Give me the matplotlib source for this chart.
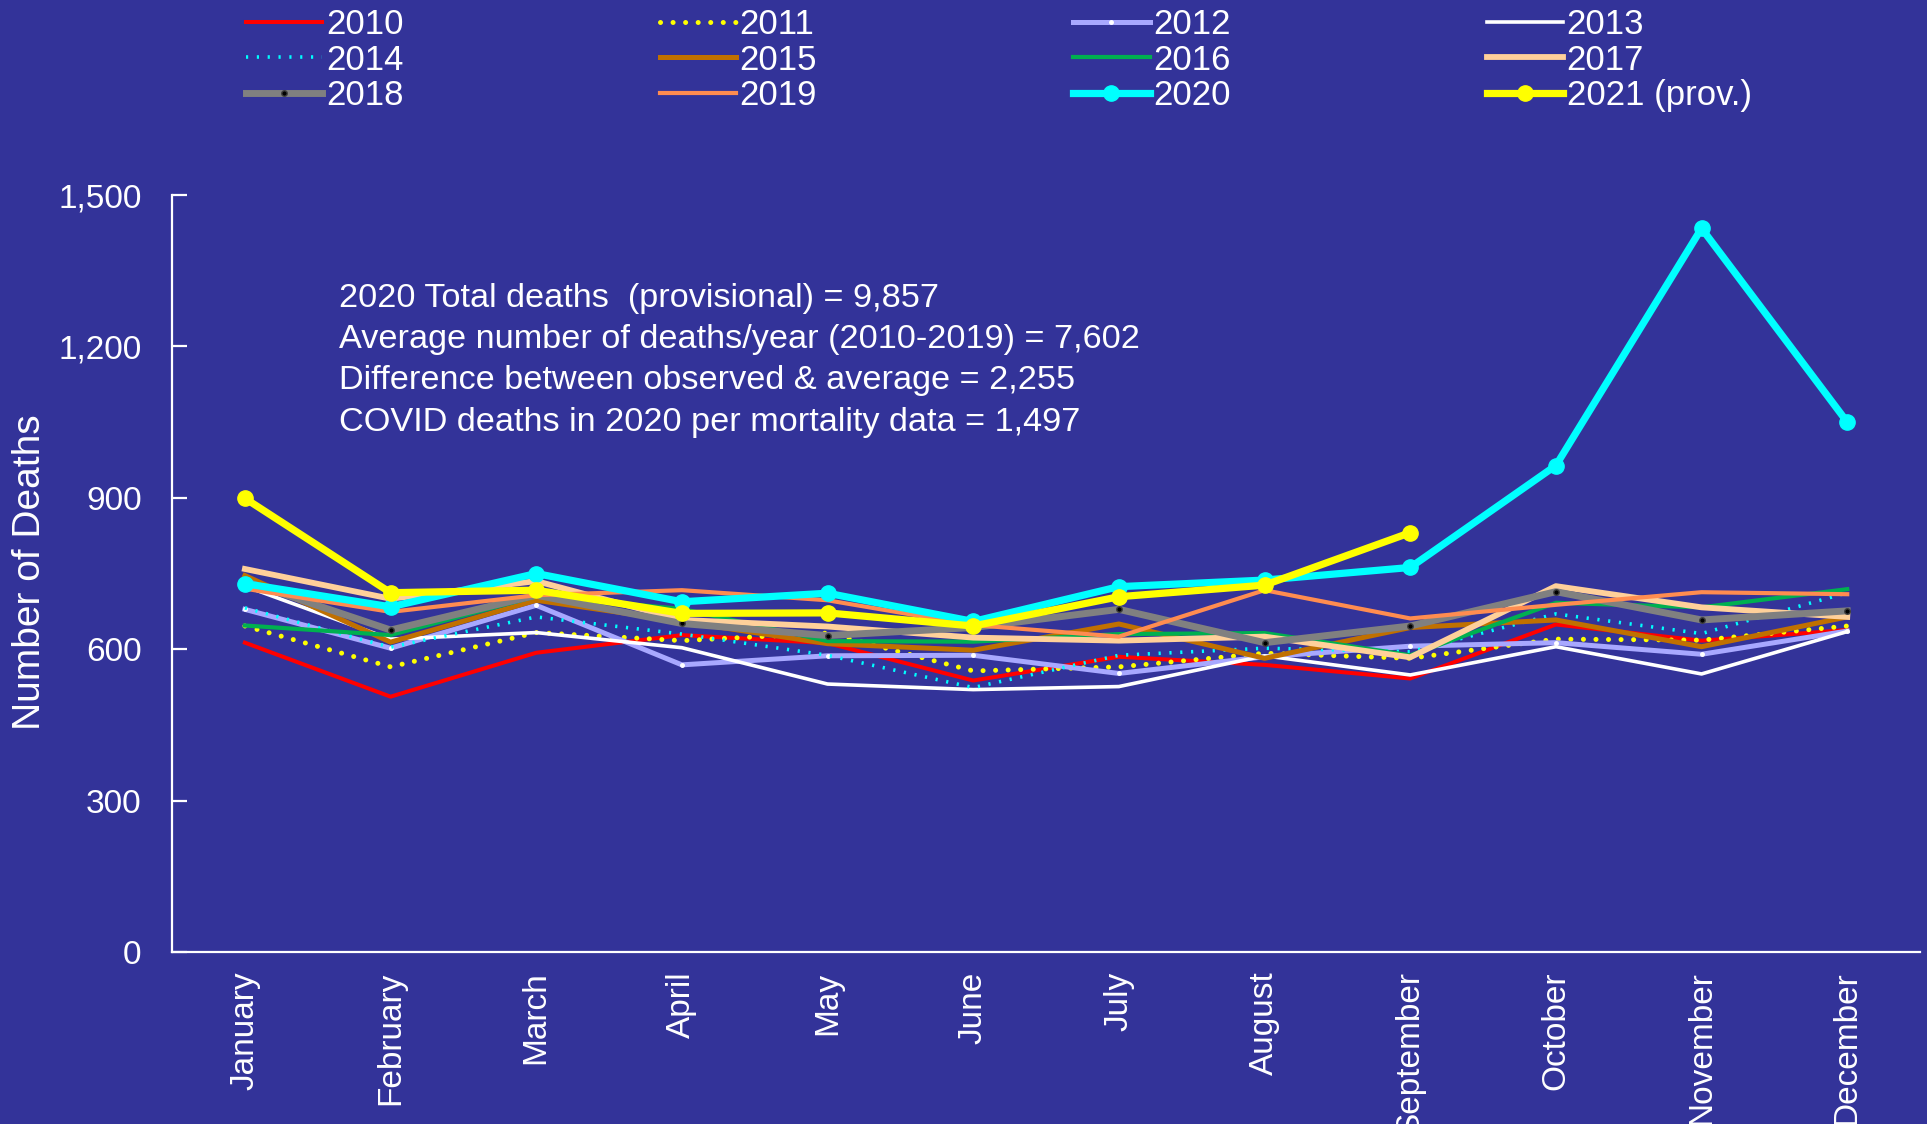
import matplotlib
matplotlib.use("Agg")
import matplotlib.pyplot as plt
from matplotlib.ticker import FuncFormatter

plt.rcParams['font.family'] = ['Liberation Sans', 'DejaVu Sans']

BG = '#333399'

months = ["January", "February", "March", "April", "May", "June", "July",
          "August", "September", "October", "November", "December"]

d2010 = [613, 506, 593, 628, 612, 538, 585, 569, 542, 649, 617, 638]
d2011 = [646, 565, 633, 617, 632, 557, 565, 592, 582, 620, 618, 646]
d2012 = [679, 602, 687, 569, 587, 588, 552, 585, 606, 613, 590, 636]
d2013 = [725, 620, 633, 603, 531, 520, 526, 587, 549, 605, 551, 635]
d2014 = [682, 604, 664, 630, 588, 524, 588, 602, 595, 670, 631, 712]
d2015 = [746, 614, 697, 655, 611, 598, 650, 582, 643, 658, 605, 664]
d2016 = [647, 628, 705, 680, 616, 615, 630, 632, 588, 692, 683, 719]
d2017 = [759, 700, 735, 658, 645, 623, 617, 625, 584, 725, 683, 664]
d2018 = [735, 638, 707, 651, 627, 643, 679, 613, 646, 714, 658, 676]
d2019 = [720, 674, 707, 717, 697, 648, 625, 717, 661, 688, 713, 709]
d2020 = [730, 684, 750, 694, 711, 655, 724, 737, 762, 964, 1434, 1050]
d2021 = [899, 712, 717, 671, 672, 646, 704, 727, 831]  # provisional, Jan-Sep

notes = ["2020 Total deaths  (provisional) = 9,857",
         "Average number of deaths/year (2010-2019) = 7,602",
         "Difference between observed & average = 2,255",
         "COVID deaths in 2020 per mortality data = 1,497"]

fig = plt.figure(figsize=(19.27, 11.24), dpi=100, facecolor=BG)
ax = fig.add_axes([0.0893, 0.153, 0.9071, 0.6735], facecolor=BG)

x = list(range(12))
ax.plot(x, d2010, color='#FF0000', lw=2.9, label='2010')
ax.plot(x, d2011, color='#FFFF00', lw=3.6, ls=(0, (0.01, 2.5)),
        dash_capstyle='round', label='2011')
ax.plot(x, d2012, color='#A8A8FF', lw=3.6, marker='o', ms=2.5,
        mfc='white', mec='white', label='2012')
ax.plot(x, d2013, color='white', lw=2.6, label='2013')
ax.plot(x, d2014, color='#00FFFF', lw=2.6, ls=(0, (0.6, 2.4)),
        dash_capstyle='butt', label='2014')
ax.plot(x, d2015, color='#C07000', lw=3.6, label='2015')
ax.plot(x, d2016, color='#00B050', lw=3.0, label='2016')
ax.plot(x, d2017, color='#FFD09A', lw=4.2, label='2017')
ax.plot(x, d2018, color='#808080', lw=5.0, marker='o', ms=4,
        mfc='black', mec='#404040', label='2018')
ax.plot(x, d2019, color='#FF8C50', lw=3.0, label='2019')
ax.plot(x, d2020, color='#00FFFF', lw=5.2, marker='o', ms=11, label='2020')
ax.plot(x[:len(d2021)], d2021, color='#FFFF00', lw=5.2, marker='o', ms=11,
        label='2021 (prov.)')

ax.set_xlim(-0.5, 11.5)
ax.set_ylim(0, 1500)
ax.set_yticks(range(0, 1501, 300))
ax.yaxis.set_major_formatter(FuncFormatter(lambda v, p: f"{int(v):,}"))
ax.set_xticks(x)
ax.set_xticklabels(months, rotation=90, va='top', ha='center')

for s in ['top', 'right']:
    ax.spines[s].set_visible(False)
for s in ['left', 'bottom']:
    ax.spines[s].set_color('white')
    ax.spines[s].set_linewidth(1.6)

ax.tick_params(axis='y', direction='in', length=11, width=1.6, color='white',
               labelcolor='white', labelsize=24, pad=22)
ax.tick_params(axis='x', length=0, labelcolor='white', labelsize=24, pad=14)

fig.text(30 / 1927, 1 - 572 / 1124, "Number of Deaths", rotation=90,
         color='white', fontsize=28, ha='center', va='center')

for i, line in enumerate(notes):
    fig.text(339 / 1927, 1 - (298 + 41.5 * i) / 1124, line, color='white',
             fontsize=24.7, ha='left', va='center')

# legend reads across rows, matplotlib fills down columns
handles, labels = ax.get_legend_handles_labels()
order = [r * 4 + c for c in range(4) for r in range(3)]
leg = fig.legend([handles[i] for i in order], [labels[i] for i in order],
                 loc='upper left', bbox_to_anchor=(246 / 1927, 0.993),
                 ncol=4, frameon=False, fontsize=25, handlelength=2.2,
                 handletextpad=0.1, columnspacing=7.38, labelspacing=0.08,
                 borderpad=0, borderaxespad=0)
for t in leg.get_texts():
    t.set_color('white')

fig.savefig("out.png", dpi=100, facecolor=BG)
